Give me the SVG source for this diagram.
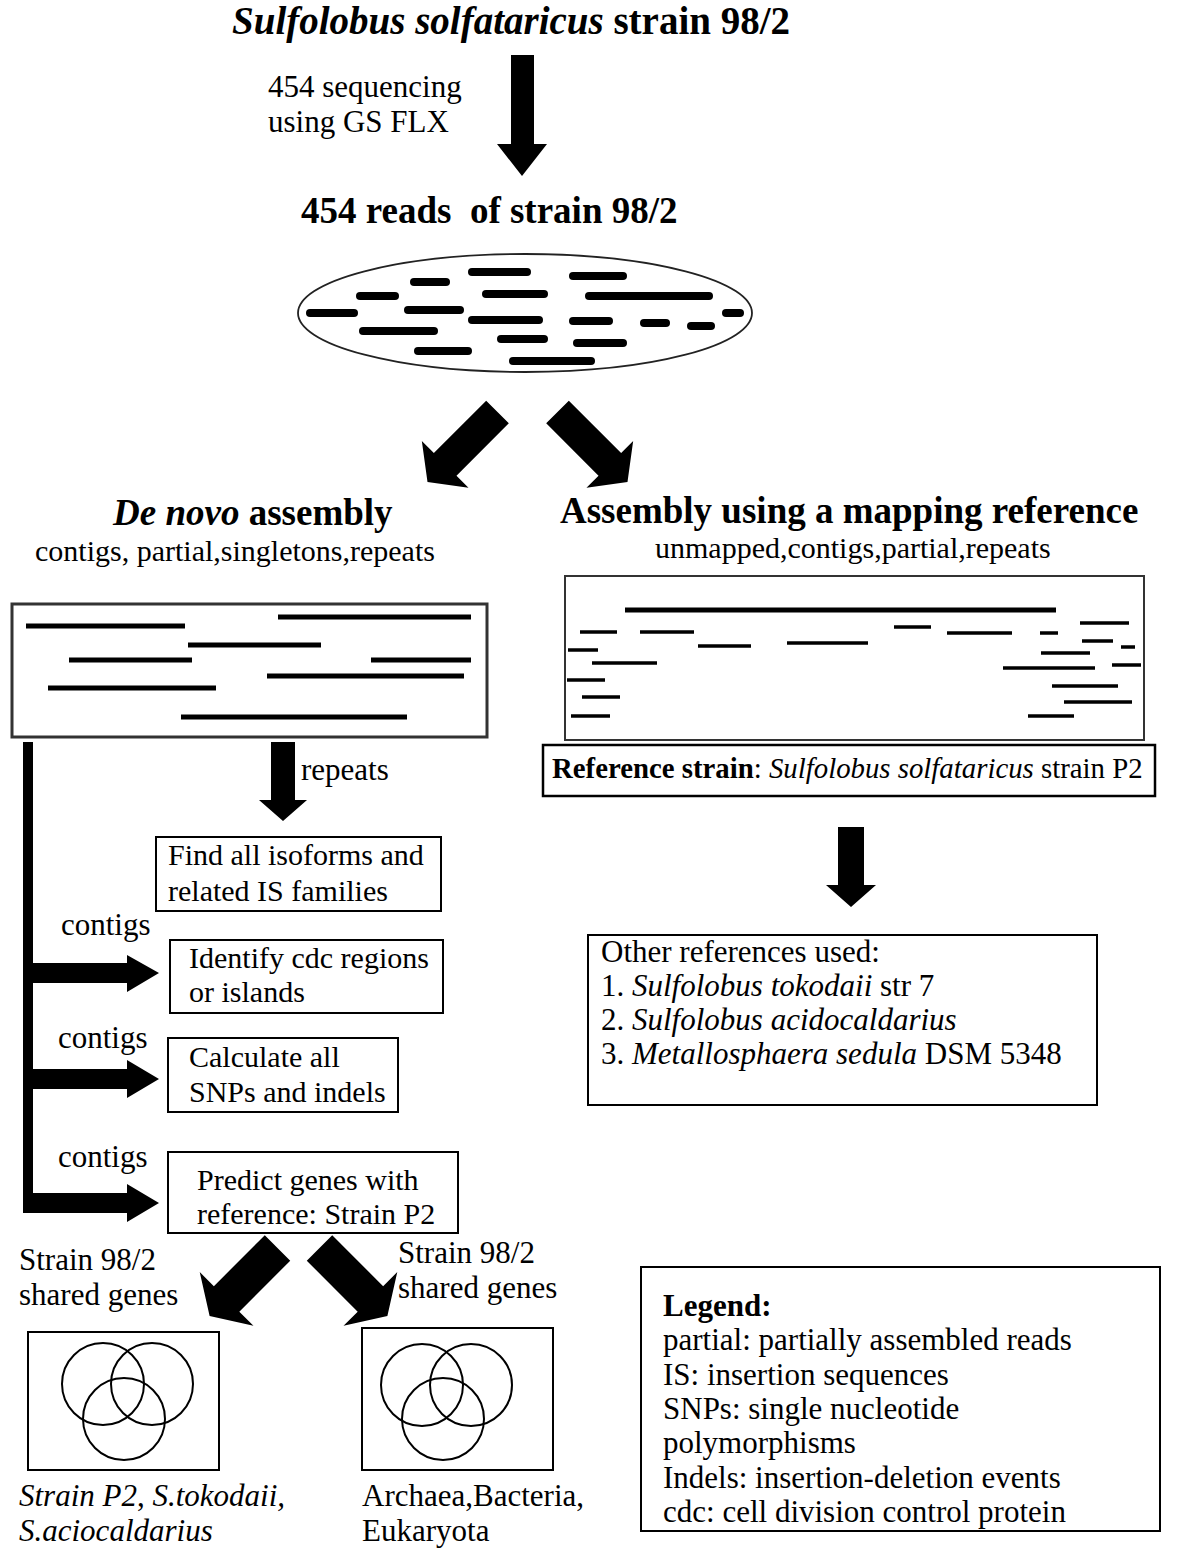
<svg xmlns="http://www.w3.org/2000/svg" width="1197" height="1551" viewBox="0 0 1197 1551">
<style>
text{font-family:"Liberation Serif","Times New Roman",serif;fill:#000}
.h{font-size:37px;font-weight:bold}
.m{font-size:31px}
.s{font-size:30px}
.i{font-style:italic}
.bx{fill:#fff;stroke:#000;stroke-width:2}
.arr{fill:#000}
.rd{stroke:#000;stroke-width:8;stroke-linecap:round}
.cr{stroke:#000;stroke-width:5}
.mr{stroke:#000;stroke-width:3.5}
.vc{fill:none;stroke:#000;stroke-width:2}
</style>
<rect width="1197" height="1551" fill="#fff"/>

<g id="title"><text class="h" x="232" y="34" style="font-size:39px"><tspan class="i">Sulfolobus solfataricus</tspan> strain 98/2</text></g>
<g id="seq-label"><text class="m" x="268" y="97">454 sequencing</text><text class="m" x="268" y="132">using GS FLX</text></g>
<g id="reads-title"><text class="h" x="301" y="223" xml:space="preserve">454 reads  of strain 98/2</text></g>

<g id="reads-pool">
<ellipse cx="525" cy="313" rx="227" ry="59" fill="#fff" stroke="#222" stroke-width="1.8"/>
<line class="rd" x1="472" y1="272" x2="527" y2="272"/>
<line class="rd" x1="573" y1="276" x2="623" y2="276"/>
<line class="rd" x1="414" y1="282" x2="446" y2="282"/>
<line class="rd" x1="360" y1="296" x2="395" y2="296"/>
<line class="rd" x1="486" y1="294" x2="544" y2="294"/>
<line class="rd" x1="589" y1="296" x2="709" y2="296"/>
<line class="rd" x1="310" y1="313" x2="354" y2="313"/>
<line class="rd" x1="408" y1="310" x2="460" y2="310"/>
<line class="rd" x1="726" y1="313" x2="740" y2="313"/>
<line class="rd" x1="472" y1="320" x2="539" y2="320"/>
<line class="rd" x1="573" y1="321" x2="609" y2="321"/>
<line class="rd" x1="644" y1="323" x2="666" y2="323"/>
<line class="rd" x1="691" y1="326" x2="711" y2="326"/>
<line class="rd" x1="363" y1="331" x2="434" y2="331"/>
<line class="rd" x1="501" y1="339" x2="544" y2="339"/>
<line class="rd" x1="577" y1="343" x2="623" y2="343"/>
<line class="rd" x1="418" y1="351" x2="468" y2="351"/>
<line class="rd" x1="513" y1="361" x2="591" y2="361"/>
</g>

<g id="denovo-header"><text class="h" x="113" y="525"><tspan class="i">De novo</tspan> assembly</text>
<text class="s" x="35" y="561">contigs, partial,singletons,repeats</text></g>
<g id="denovo-box">
<rect x="12" y="604" width="475" height="133" fill="#fff" stroke="#333" stroke-width="3"/>
<line class="cr" x1="26" y1="626" x2="185" y2="626"/>
<line class="cr" x1="278" y1="617" x2="471" y2="617"/>
<line class="cr" x1="188" y1="645" x2="321" y2="645"/>
<line class="cr" x1="69" y1="660" x2="192" y2="660"/>
<line class="cr" x1="371" y1="660" x2="471" y2="660"/>
<line class="cr" x1="267" y1="676" x2="464" y2="676"/>
<line class="cr" x1="48" y1="688" x2="216" y2="688"/>
<line class="cr" x1="181" y1="717" x2="407" y2="717"/>
</g>

<g id="mapping-header"><text class="h" x="560" y="523">Assembly using a mapping reference</text>
<text class="s" x="655" y="558">unmapped,contigs,partial,repeats</text></g>
<g id="mapping-box">
<rect x="565" y="576" width="579" height="164" fill="#fff" stroke="#333" stroke-width="2"/>
<line x1="625" y1="610" x2="1056" y2="610" stroke="#000" stroke-width="5"/>
<line class="mr" x1="580" y1="632" x2="617" y2="632"/>
<line class="mr" x1="640" y1="632" x2="694" y2="632"/>
<line class="mr" x1="698" y1="646" x2="751" y2="646"/>
<line class="mr" x1="787" y1="643" x2="868" y2="643"/>
<line class="mr" x1="894" y1="627" x2="931" y2="627"/>
<line class="mr" x1="947" y1="633" x2="1012" y2="633"/>
<line class="mr" x1="1040" y1="633" x2="1058" y2="633"/>
<line class="mr" x1="1080" y1="623" x2="1129" y2="623"/>
<line class="mr" x1="568" y1="650" x2="598" y2="650"/>
<line class="mr" x1="592" y1="663" x2="657" y2="663"/>
<line class="mr" x1="1082" y1="641" x2="1113" y2="641"/>
<line class="mr" x1="1121" y1="647" x2="1135" y2="647"/>
<line class="mr" x1="1041" y1="653" x2="1090" y2="653"/>
<line class="mr" x1="1003" y1="668" x2="1095" y2="668"/>
<line class="mr" x1="1112" y1="665" x2="1141" y2="665"/>
<line class="mr" x1="567" y1="680" x2="605" y2="680"/>
<line class="mr" x1="582" y1="697" x2="620" y2="697"/>
<line class="mr" x1="1052" y1="686" x2="1118" y2="686"/>
<line class="mr" x1="1064" y1="702" x2="1132" y2="702"/>
<line class="mr" x1="571" y1="716" x2="610" y2="716"/>
<line class="mr" x1="1028" y1="716" x2="1074" y2="716"/>
</g>
<g id="reference-strain"><rect x="543" y="745" width="612" height="51" fill="#fff" stroke="#000" stroke-width="2.5"/>
<text x="552" y="778" style="font-size:28.8px"><tspan font-weight="bold">Reference strain</tspan>: <tspan class="i">Sulfolobus solfataricus</tspan> strain P2</text></g>

<g id="find-isoforms"><rect class="bx" x="156" y="837" width="285" height="74"/>
<text class="s" x="168" y="865">Find all isoforms and</text><text class="s" x="168" y="901">related IS families</text></g>
<g id="identify-cdc"><rect class="bx" x="170" y="940" width="273" height="73"/>
<text class="s" x="189" y="968">Identify cdc regions</text><text class="s" x="189" y="1002">or islands</text></g>
<g id="calculate-snps"><rect class="bx" x="168" y="1038" width="230" height="74"/>
<text class="s" x="189" y="1067">Calculate all</text><text class="s" x="189" y="1102">SNPs and indels</text></g>
<g id="predict-genes"><rect class="bx" x="168" y="1152" width="290" height="81"/>
<text class="s" x="197" y="1190">Predict genes with</text><text class="s" x="197" y="1224">reference: Strain P2</text></g>

<g id="other-references"><rect class="bx" x="588" y="935" width="509" height="170"/>
<text class="m" x="601" y="962">Other references used:</text>
<text class="m" x="601" y="996">1. <tspan class="i">Sulfolobus tokodaii</tspan> str 7</text>
<text class="m" x="601" y="1030">2. <tspan class="i">Sulfolobus acidocaldarius</tspan></text>
<text class="m" x="601" y="1064">3. <tspan class="i">Metallosphaera sedula</tspan> DSM 5348</text></g>

<g id="venn-left"><rect class="bx" x="28" y="1332" width="191" height="138"/>
<circle class="vc" cx="103" cy="1384" r="41"/><circle class="vc" cx="152" cy="1384" r="41"/><circle class="vc" cx="124" cy="1419" r="41"/></g>
<g id="venn-left-label"><text class="m i" x="19" y="1506">Strain P2<tspan font-style="normal">,</tspan> S.tokodaii,</text><text class="m i" x="19" y="1541">S.aciocaldarius</text></g>
<g id="venn-right"><rect class="bx" x="362" y="1328" width="191" height="142"/>
<circle class="vc" cx="422" cy="1385" r="41"/><circle class="vc" cx="471" cy="1385" r="41"/><circle class="vc" cx="443" cy="1419" r="41"/></g>
<g id="venn-right-label"><text class="m" x="362" y="1506">Archaea,Bacteria,</text><text class="m" x="362" y="1541">Eukaryota</text></g>

<g id="legend"><rect class="bx" x="641" y="1267" width="519" height="264"/>
<text class="m" x="663" y="1316" font-weight="bold">Legend:</text>
<text class="m" x="663" y="1350">partial: partially assembled reads</text>
<text class="m" x="663" y="1385">IS: insertion sequences</text>
<text class="m" x="663" y="1419">SNPs: single nucleotide</text>
<text class="m" x="663" y="1453">polymorphisms</text>
<text class="m" x="663" y="1488">Indels: insertion-deletion events</text>
<text class="m" x="663" y="1522">cdc: cell division control protein</text></g>

<g id="connectors">
<polygon class="arr" points="511,55 534,55 534,144 547,144 522,176 497,144 511,144"/>
<polygon class="arr" transform="translate(497.5,412) rotate(45)" points="-16,0 16,0 16,74 33,74 0,99 -33,74 -16,74"/>
<polygon class="arr" transform="translate(557.5,412) rotate(-45)" points="-16,0 16,0 16,74 33,74 0,99 -33,74 -16,74"/>
<polygon class="arr" points="271,742 295,742 295,800 307,800 283,821 259,800 271,800"/>
<polygon class="arr" points="838,827 864,827 864,885 876,885 851,907 826,885 838,885"/>
<rect class="arr" x="23" y="742" width="10" height="471"/>
<polygon class="arr" points="33,963 127,963 127,955 159,973 127,992 127,983 33,983"/>
<polygon class="arr" points="33,1069 127,1069 127,1060 159,1079 127,1098 127,1089 33,1089"/>
<polygon class="arr" points="23,1193 127,1193 127,1184 159,1203 127,1222 127,1213 23,1213"/>
<polygon class="arr" transform="translate(277.5,1248) rotate(45)" points="-18,0 18,0 18,72 38,72 0,96 -38,72 -18,72"/>
<polygon class="arr" transform="translate(319.5,1248) rotate(-45)" points="-18,0 18,0 18,72 38,72 0,96 -38,72 -18,72"/>
</g>
<g id="labels">
<text class="m" x="61" y="935">contigs</text>
<text class="m" x="58" y="1048">contigs</text>
<text class="m" x="58" y="1167">contigs</text>
<text class="m" x="301" y="780">repeats</text>
<text class="m" x="19" y="1270">Strain 98/2</text><text class="m" x="19" y="1305">shared genes</text>
<text class="m" x="398" y="1263">Strain 98/2</text><text class="m" x="398" y="1298">shared genes</text>
</g>
</svg>
